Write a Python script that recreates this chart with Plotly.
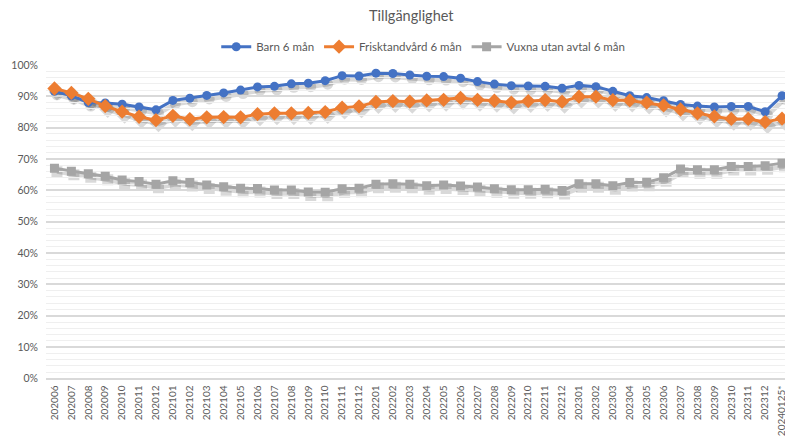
import plotly.graph_objects as go

months = [f"{y}{m:02d}" for y, m in
          [(2020, m) for m in range(6, 13)] +
          [(2021, m) for m in range(1, 13)] +
          [(2022, m) for m in range(1, 13)] +
          [(2023, m) for m in range(1, 13)]]
categories = months + ["20240125*"]

barn = [91.6, 90.2, 88.0, 87.9, 87.5, 86.6, 85.7, 88.7, 89.4, 90.3, 91.1, 92.0,
        93.0, 93.2, 94.0, 94.2, 95.0, 96.6, 96.5, 97.4, 97.3, 96.8, 96.4, 96.3,
        95.8, 94.7, 93.9, 93.4, 93.3, 93.2, 92.6, 93.5, 93.1, 91.6, 90.2, 89.6,
        88.6, 87.4, 86.9, 86.6, 86.8, 86.8, 85.1, 90.2]
frisk = [92.5, 91.1, 89.2, 86.9, 85.1, 83.5, 82.4, 83.8, 82.7, 83.3, 83.4, 83.3,
         84.3, 84.6, 84.6, 84.7, 85.0, 86.4, 86.8, 88.2, 88.5, 88.3, 88.7, 88.9,
         89.5, 88.9, 88.6, 88.0, 88.5, 88.8, 88.3, 89.9, 89.9, 88.8, 88.7, 88.0,
         87.1, 85.8, 84.6, 83.6, 82.8, 82.8, 81.8, 82.9]
vuxna = [67.1, 66.1, 65.3, 64.5, 63.3, 62.8, 62.0, 63.1, 62.5, 61.7, 61.2, 60.7,
         60.6, 60.1, 60.1, 59.5, 59.4, 60.5, 60.7, 62.0, 62.1, 62.0, 61.5, 61.7,
         61.4, 61.1, 60.5, 60.2, 60.2, 60.4, 60.0, 62.1, 62.1, 61.5, 62.5, 62.6,
         64.0, 66.8, 66.6, 66.6, 67.6, 67.6, 67.9, 68.7]

series = [
    ("Barn 6 mån", barn, "#4472C4", "circle", 9),
    ("Frisktandvård 6 mån", frisk, "#ED7D31", "diamond", 11),
    ("Vuxna utan avtal 6 mån", vuxna, "#A5A5A5", "square", 9),
]

# the page body adds an 8px margin, so the figure is sized to fit inside
FW, FH = 785, 433
L, R, T, B = 38, 0, 57, 59
W, H = FW - L - R, FH - T - B
ex, ey = 2.5 / W, 3.5 / H  # drop-shadow offset
xrange = [-0.5, len(categories) - 0.5]

fig = go.Figure()

# soft drop shadows on the lower subplot (drawn first)
for name, vals, color, symbol, size in series:
    fig.add_trace(go.Scatter(
        x=categories, y=[v / 100 for v in vals], mode="lines+markers",
        line=dict(color="rgba(0,0,0,0.15)", width=4.5),
        marker=dict(symbol=symbol, size=size + 2, color="rgba(0,0,0,0.15)"),
        showlegend=False, hoverinfo="skip", xaxis="x", yaxis="y",
    ))

for name, vals, color, symbol, size in series:
    fig.add_trace(go.Scatter(
        x=categories, y=[v / 100 for v in vals], mode="lines+markers", name=name,
        line=dict(color=color, width=3),
        marker=dict(symbol=symbol, size=size, color=color),
        xaxis="x2", yaxis="y2",
    ))

font = dict(family="Lato, Carlito, sans-serif", color="#595959")

fig.update_layout(
    width=FW, height=FH,
    margin=dict(l=L, r=R, t=T, b=B),
    paper_bgcolor="white", plot_bgcolor="rgba(0,0,0,0)",
    font=font,
    title=dict(text="Tillgänglighet", x=0.489, xref="paper", y=1 - 8 / FH,
               yanchor="middle", font=dict(size=14.5, **font)),
    legend=dict(orientation="h", x=0.505, xanchor="center", y=1.012,
                yanchor="bottom", font=dict(size=11.5), tracegroupgap=0),
    showlegend=True,
    xaxis=dict(domain=[ex, 1], anchor="y", visible=False, type="category",
               categoryorder="array", categoryarray=categories,
               range=xrange, automargin=False),
    yaxis=dict(domain=[0, 1 - ey], anchor="x", visible=False, range=[0, 1],
               automargin=False),
    xaxis2=dict(domain=[0, 1 - ex], anchor="y2", type="category",
                categoryorder="array", categoryarray=categories, range=xrange,
                tickangle=-90, tickfont=dict(size=10), showgrid=False,
                showline=False, ticks="", zeroline=False, automargin=False,
                ticklabelstandoff=4),
    yaxis2=dict(domain=[ey, 1], anchor="x2", range=[0, 1], dtick=0.1,
                tickformat=".0%", tickfont=dict(size=10.5),
                showgrid=True, gridcolor="#D9D9D9", gridwidth=1.5,
                minor=dict(dtick=0.02, showgrid=True, gridcolor="#EFEFEF",
                           gridwidth=1.2),
                zeroline=True, zerolinecolor="#D9D9D9", zerolinewidth=1.5,
                showline=False, ticks="", automargin=False,
                ticklabelstandoff=7),
)

fig.write_html("out.html")
